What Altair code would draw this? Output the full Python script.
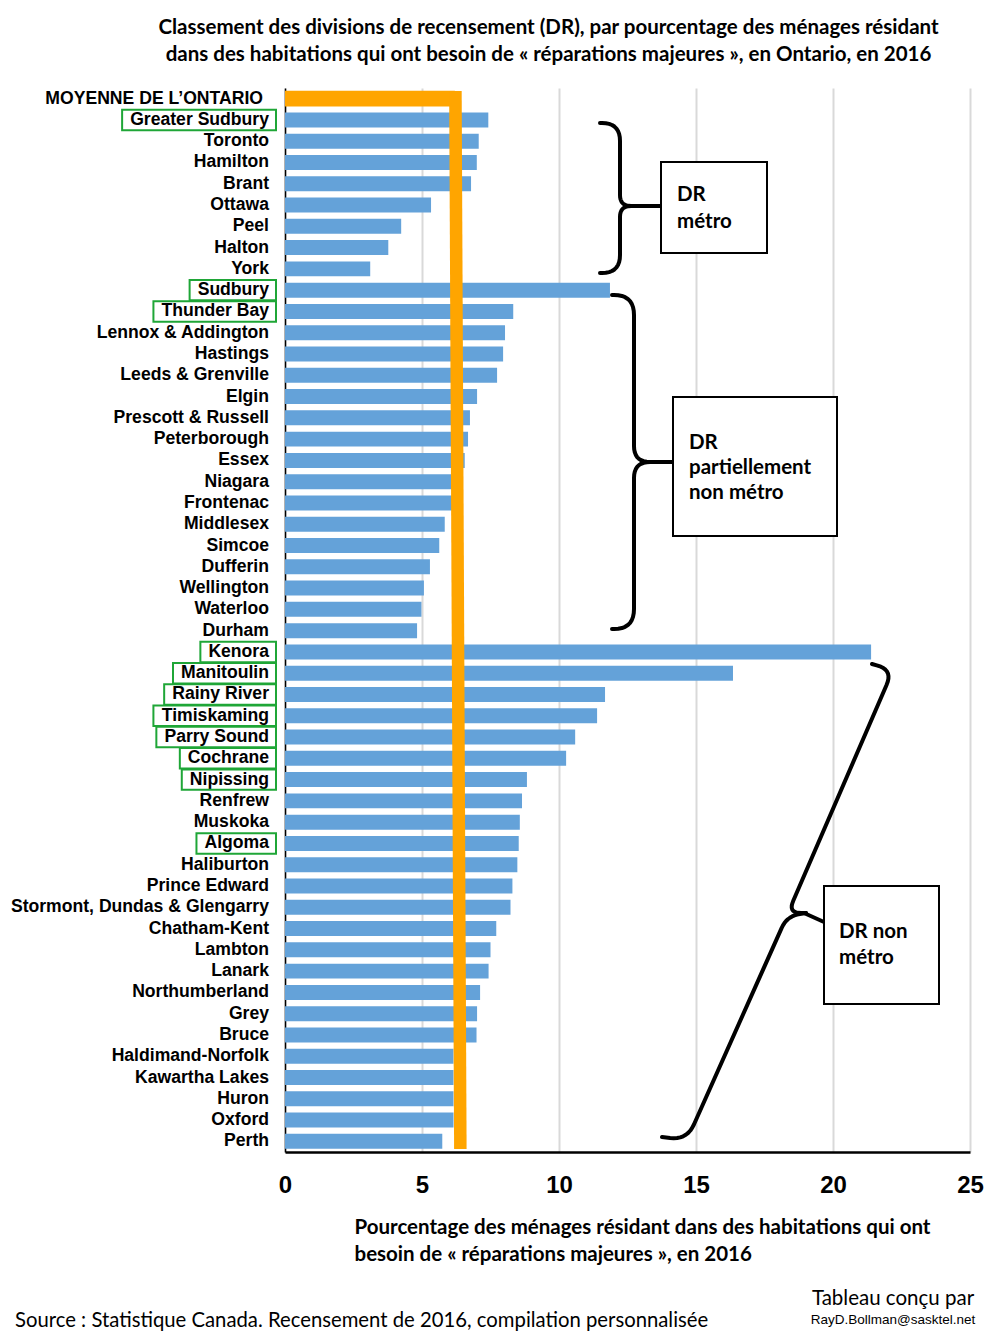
import altair as alt
import pandas as pd
import numpy as np

# ---------------- data ----------------
avg_label = "MOYENNE DE L’ONTARIO"
avg_value = 6.2

names = ["Greater Sudbury", "Toronto", "Hamilton", "Brant", "Ottawa", "Peel", "Halton", "York",
         "Sudbury", "Thunder Bay", "Lennox & Addington", "Hastings", "Leeds & Grenville", "Elgin",
         "Prescott & Russell", "Peterborough", "Essex", "Niagara", "Frontenac", "Middlesex", "Simcoe",
         "Dufferin", "Wellington", "Waterloo", "Durham",
         "Kenora", "Manitoulin", "Rainy River", "Timiskaming", "Parry Sound", "Cochrane", "Nipissing",
         "Renfrew", "Muskoka", "Algoma", "Haliburton", "Prince Edward", "Stormont, Dundas & Glengarry",
         "Chatham-Kent", "Lambton", "Lanark", "Northumberland", "Grey", "Bruce", "Haldimand-Norfolk",
         "Kawartha Lakes", "Huron", "Oxford", "Perth"]
values = [7.42, 7.07, 7.00, 6.79, 5.33, 4.24, 3.77, 3.11,
          11.86, 8.33, 8.03, 7.96, 7.74, 7.01, 6.75, 6.68, 6.56, 6.15, 6.10, 5.83, 5.63, 5.29, 5.07, 4.98, 4.82,
          21.39, 16.35, 11.68, 11.39, 10.59, 10.26, 8.83, 8.65, 8.57, 8.53, 8.48, 8.30, 8.23, 7.71, 7.50,
          7.43, 7.12, 7.01, 6.99, 6.15, 6.15, 6.15, 6.15, 5.74]
northern = ["Greater Sudbury", "Sudbury", "Thunder Bay", "Kenora", "Manitoulin", "Rainy River",
            "Timiskaming", "Parry Sound", "Cochrane", "Nipissing", "Algoma"]
x_ticks = [0, 5, 10, 15, 20, 25]

title_lines = ["Classement des divisions de recensement (DR), par pourcentage des ménages résidant",
               "dans des habitations qui ont besoin de « réparations majeures », en Ontario, en 2016"]
x_title = ["Pourcentage des ménages résidant dans des habitations qui ont",
           "besoin de « réparations majeures », en 2016"]
source_text = "Source : Statistique Canada. Recensement de 2016, compilation personnalisée"
credit_1 = "Tableau conçu par"
credit_2 = "RayD.Bollman@sasktel.net"

# ---------------- layout ----------------
W, H = 685, 1064
NROWS = 50
PXU = W / 25.0          # px per percentage unit
PXR = H / NROWS         # px per row
PLOT_L, PLOT_T = 285, 88

def X(px):  # page px -> data x
    return (px - PLOT_L) / PXU

def R(py):  # page px -> row units
    return (py - PLOT_T) / PXR - 0.5

BLUE = "#64a2d9"
ORANGE = "#ffa500"
GREEN = "#1fa637"
LABEL_FONT = "Liberation Sans"
CAL = "Lato"

# Arial/Helvetica bold widths (per 1000 em) for box sizing
AB = {' ': 278, 'A': 722, 'B': 722, 'C': 722, 'D': 722, 'E': 667, 'G': 778, 'K': 722, 'M': 833,
      'N': 722, 'P': 667, 'R': 722, 'S': 667, 'T': 611, 'a': 556, 'b': 611, 'c': 556, 'd': 611,
      'e': 556, 'g': 611, 'h': 611, 'i': 278, 'k': 556, 'l': 278, 'm': 889, 'n': 611, 'o': 611,
      'p': 611, 'r': 389, 's': 556, 't': 333, 'u': 611, 'v': 556, 'y': 556}

LABEL_SIZE = 17.6
LABEL_X = -16
def text_w(s, size=LABEL_SIZE):
    return sum(AB.get(c, 600) for c in s) * size / 1000.0

df = pd.DataFrame({"name": names, "value": values, "row": np.arange(1, len(names) + 1)})
df["north"] = df["name"].isin(northern)
df["box_l"] = [X(PLOT_L + LABEL_X - text_w(n) - 8) for n in df["name"]]
df["box_r"] = X(PLOT_L - 9)

xscale = alt.Scale(domain=[0, 25], nice=False, zero=False)
yscale = alt.Scale(domain=[-0.5, NROWS - 0.5], reverse=True, nice=False, zero=False)

x_axis = alt.Axis(values=x_ticks, grid=True, gridColor="#d9d9d9", gridWidth=2,
                  domainColor="black", domainWidth=2.5, ticks=False, labelFlush=False,
                  labelFont=LABEL_FONT, labelFontWeight="bold", labelFontSize=24,
                  labelColor="black", labelPadding=21,
                  title=x_title, titleFont=CAL, titleFontWeight="bold", titleFontSize=20.5,
                  titleColor="black", titleAnchor="start", titleAlign="left",
                  titleBaseline="top", titleX=X(354) * PXU, titleY=65, titleLineHeight=27)
y_axis = alt.Axis(labels=False, ticks=False, grid=False, domainColor="black",
                  domainWidth=1.5, title=None)

base = alt.Chart(df)

bars = base.mark_rect(color=BLUE).transform_calculate(
    y0="datum.row - 0.352", y1="datum.row + 0.352"
).encode(
    x=alt.X("value:Q", scale=xscale, axis=x_axis),
    x2=alt.datum(0),
    y=alt.Y("y0:Q", scale=yscale, axis=y_axis),
    y2="y1:Q",
)

avg_df = pd.DataFrame({"name": [avg_label], "value": [avg_value], "row": [0]})
avg_bar = alt.Chart(avg_df).mark_rect(color=ORANGE).transform_calculate(
    y0="datum.row - 0.37", y1="datum.row + 0.37"
).encode(x="value:Q", x2=alt.datum(0), y="y0:Q", y2="y1:Q")

rule_df = pd.DataFrame({"x": [avg_value + 0.02], "x2": [avg_value + 0.2],
                        "y": [R(91)], "y2": [R(1149)]})
avg_rule = alt.Chart(rule_df).mark_rule(color=ORANGE, strokeWidth=12.5, strokeCap="butt").encode(
    x="x:Q", x2="x2:Q", y="y:Q", y2="y2:Q")

labels = base.mark_text(align="right", baseline="middle", font=LABEL_FONT, fontWeight="bold",
                        fontSize=LABEL_SIZE, color="black").encode(
    x=alt.value(LABEL_X), y="row:Q", text="name:N")
avg_text = alt.Chart(avg_df).mark_text(align="right", baseline="middle", font=LABEL_FONT,
                                       fontWeight="bold", fontSize=LABEL_SIZE, color="black").encode(
    x=alt.value(-22), y="row:Q", text="name:N")

green = base.transform_filter("datum.north").transform_calculate(
    y0="datum.row - 0.48", y1="datum.row + 0.48"
).mark_rect(filled=False, stroke=GREEN, strokeWidth=2).encode(
    x="box_l:Q", x2="box_r:Q", y="y0:Q", y2="y1:Q")

# ---------------- braces (annotation geometry, page px) ----------------
def rounded(pts, radii, n=10):
    out = [pts[0]]
    for i in range(1, len(pts) - 1):
        A, V, B = (np.array(p, dtype=float) for p in (pts[i - 1], pts[i], pts[i + 1]))
        r = radii[i - 1]
        u1 = (A - V) / np.linalg.norm(A - V)
        u2 = (B - V) / np.linalg.norm(B - V)
        p1, p2 = V + u1 * r, V + u2 * r
        for t in np.linspace(0, 1, n):
            q = (1 - t) ** 2 * p1 + 2 * (1 - t) * t * V + t ** 2 * p2
            out.append(tuple(q))
    out.append(pts[-1])
    return out

brace_paths = {
    "b1u": rounded([(600, 123), (620, 123), (620, 206), (634, 206)], [18, 11]),
    "b1l": rounded([(634, 206), (620, 206), (620, 273), (600, 273)], [11, 18]),
    "b1c": [(630, 206), (661, 206)],
    "b2u": rounded([(612, 295), (634, 295), (634, 462), (652, 462)], [20, 16]),
    "b2l": rounded([(652, 462), (634, 462), (634, 629), (612, 629)], [16, 20]),
    "b2c": [(648, 462), (673, 462)],
    "b3u": rounded([(872, 664), (893, 670), (788, 913), (806, 913)], [16, 13]),
    "b3l": rounded([(806, 913), (787, 916), (687, 1140), (662, 1137)], [13, 17]),
    "b3c": [(804, 913), (824, 922)],
}
rows = []
for k, pts in brace_paths.items():
    for i, (px, py) in enumerate(pts):
        rows.append({"id": k, "seq": i, "x": X(px), "y": R(py)})
brace_df = pd.DataFrame(rows)
braces = alt.Chart(brace_df).mark_line(color="black", strokeWidth=4, strokeCap="round",
                                       strokeJoin="round").encode(
    x="x:Q", y="y:Q", detail="id:N", order="seq:Q")

box_df = pd.DataFrame({
    "x": [X(661), X(673), X(824)], "x2": [X(767), X(837), X(939)],
    "y": [R(162), R(397), R(886)], "y2": [R(253), R(536), R(1004)]})
boxes = alt.Chart(box_df).mark_rect(fill="white", stroke="black", strokeWidth=2).encode(
    x="x:Q", x2="x2:Q", y="y:Q", y2="y2:Q")

box_text_df = pd.DataFrame({
    "t": ["DR", "métro", "DR", "partiellement", "non métro", "DR non", "métro"],
    "x": [X(677), X(677), X(689), X(689), X(689), X(839), X(839)],
    "y": [R(195), R(222), R(443), R(468), R(493), R(932), R(958)]})
box_texts = alt.Chart(box_text_df).mark_text(align="left", baseline="middle", font=CAL,
                                             fontWeight="bold", fontSize=20.5, color="black").encode(
    x="x:Q", y="y:Q", text="t:N")

foot_src = alt.Chart(pd.DataFrame({"t": [source_text]})).mark_text(
    align="left", baseline="middle", font=CAL, fontSize=20.3, color="black").encode(
    x=alt.value(15 - PLOT_L), y=alt.value(1321 - PLOT_T), text="t:N")
foot_c1 = alt.Chart(pd.DataFrame({"t": [credit_1]})).mark_text(
    align="center", baseline="middle", font=CAL, fontSize=20.5, color="black").encode(
    x=alt.value(893 - PLOT_L), y=alt.value(1299 - PLOT_T), text="t:N")
foot_c2 = alt.Chart(pd.DataFrame({"t": [credit_2]})).mark_text(
    align="center", baseline="middle", font=LABEL_FONT, fontSize=13.5, color="black").encode(
    x=alt.value(893 - PLOT_L), y=alt.value(1320 - PLOT_T), text="t:N")

chart = alt.layer(
    bars, avg_bar, avg_rule, labels, avg_text, green, braces, boxes, box_texts,
    foot_src, foot_c1, foot_c2
).properties(
    width=W, height=H,
    padding={"left": PLOT_L - 8, "top": PLOT_T - 8, "right": 20, "bottom": 184},
    autosize=alt.AutoSizeParams(type="none"),
    title=alt.TitleParams(text=title_lines, font=CAL, fontSize=20.5, fontWeight="bold",
                          color="black", anchor="middle", frame="group", dx=-79,
                          lineHeight=27, offset=19),
).configure_view(stroke=None)

chart.save("out.html", embed_options={"renderer": "svg", "actions": False})
